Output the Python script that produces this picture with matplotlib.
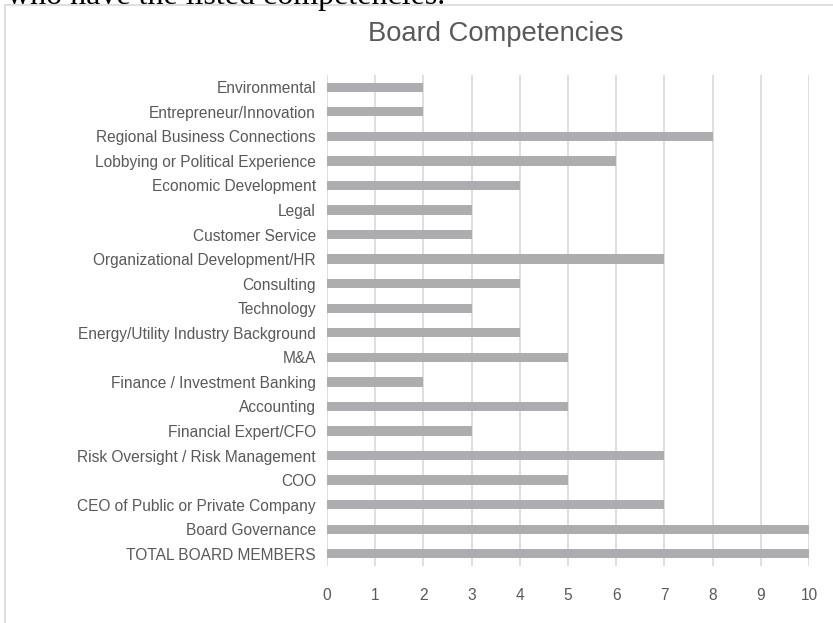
import matplotlib.pyplot as plt
from matplotlib.patches import Rectangle

# competencies, top to bottom as shown in the chart
competencies = [
    "Environmental",
    "Entrepreneur/Innovation",
    "Regional Business Connections",
    "Lobbying or Political Experience",
    "Economic Development",
    "Legal",
    "Customer Service",
    "Organizational Development/HR",
    "Consulting",
    "Technology",
    "Energy/Utility Industry Background",
    "M&A",
    "Finance / Investment Banking",
    "Accounting",
    "Financial Expert/CFO",
    "Risk Oversight / Risk Management",
    "COO",
    "CEO of Public or Private Company",
    "Board Governance",
    "TOTAL BOARD MEMBERS",
]
counts = [2, 2, 8, 6, 4, 3, 3, 7, 4, 3, 4, 5, 2, 5, 3, 7, 5, 7, 10, 10]
x_ticks = list(range(0, 11))

text_col = "#595959"
plt.rcParams['font.family'] = ['Liberation Sans', 'DejaVu Sans']

fig = plt.figure(figsize=(8.33, 6.23), dpi=100)

# chart frame (partly outside the picture)
fig.patches.append(Rectangle((5 / 833, -0.1), 1.0, 1 - 5 / 623 + 0.1,
                             transform=fig.transFigure, fill=False,
                             edgecolor="#D9D9D9", linewidth=1.2))

# clipped line of document text above the chart
fig.text(7 / 833, 1 - 4 / 623, "who have the listed competencies.",
         family="Liberation Serif", fontsize=23, color="black",
         ha="left", va="baseline")

ax = fig.add_axes([327 / 833, 1 - 566 / 623, (809 - 327) / 833, (566 - 75) / 623])
pos = list(range(len(competencies)))
ax.barh(pos, counts, height=0.38, color="#ADADB0", zorder=2)
ax.set_ylim(len(competencies) - 0.5, -0.5)
ax.set_xlim(0, 10)
ax.set_yticks(pos)
ax.set_yticklabels(competencies)
ax.set_xticks(x_ticks)
ax.tick_params(axis="both", length=0, labelsize=11.2, labelcolor=text_col)
ax.tick_params(axis="x", pad=16)
ax.tick_params(axis="y", pad=8)
ax.grid(axis="x", color="#D9D9D9", linewidth=1.2, zorder=0)
for s in ax.spines.values():
    s.set_visible(False)

fig.text(496 / 833, 1 - 34 / 623, "Board Competencies", fontsize=19.7,
         color=text_col, ha="center", va="center")

fig.savefig("out.png", dpi=100)
